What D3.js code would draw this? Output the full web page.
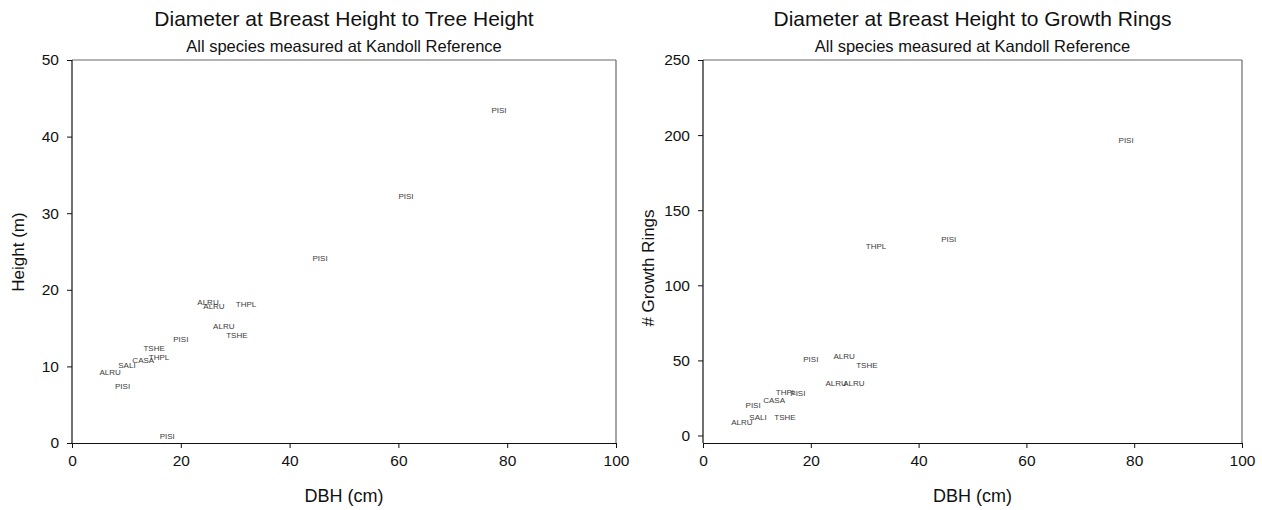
<!DOCTYPE html>
<html>
<head>
<meta charset="utf-8">
<script src="https://cdn.jsdelivr.net/npm/d3@7"></script>
<style>
  body { margin: 0; background: #fff; }
  svg { font-family: "Liberation Sans", Arial, sans-serif; }
</style>
</head>
<body>
<svg id="chart" width="1262" height="510"></svg>
<script>
// ---- Data: left chart (DBH vs Height) ----
const heightSpecies = ["PISI","PISI","PISI","ALRU","ALRU","THPL","ALRU","TSHE","PISI","TSHE","THPL","CASA","SALI","ALRU","PISI","PISI"];
const heightDbh     = [78.5, 61.4, 45.6, 25.0, 26.1, 32.0, 27.9, 30.3, 20.0, 15.1, 16.0, 13.1, 10.1, 7.0, 9.3, 17.5];
const heightValues  = [43.4, 32.2, 24.1, 18.4, 17.8, 18.1, 15.3, 14.1, 13.6, 12.4, 11.2, 10.8, 10.1, 9.3, 7.4, 0.9];

// ---- Data: right chart (DBH vs Growth Rings) ----
const ringSpecies = ["PISI","PISI","THPL","PISI","ALRU","TSHE","ALRU","ALRU","THPL","PISI","CASA","PISI","SALI","TSHE","ALRU"];
const ringDbh     = [78.5, 45.6, 32.1, 20.0, 26.2, 30.4, 24.7, 28.0, 15.4, 17.6, 13.2, 9.3, 10.2, 15.2, 7.2];
const ringValues  = [196.8, 131.0, 125.7, 50.5, 52.7, 46.5, 34.6, 34.6, 29.1, 28.4, 23.7, 19.9, 12.4, 12.4, 8.8];

const xTicks = [0, 20, 40, 60, 80, 100];
const heightTicks = [0, 10, 20, 30, 40, 50];
const ringTicks = [0, 50, 100, 150, 200, 250];

const titles = ["Diameter at Breast Height to Tree Height", "Diameter at Breast Height to Growth Rings"];
const subtitle = "All species measured at Kandoll Reference";
const xTitle = "DBH (cm)";
const yTitles = ["Height (m)", "# Growth Rings"];

const svg = d3.select("#chart");

function panel(cfg) {
  const g = svg.append("g");
  const x = d3.scaleLinear().domain([0, 100]).range([cfg.left, cfg.right]);
  const y = d3.scaleLinear().domain(cfg.yDomain).range([cfg.bottom, cfg.top]);

  // frame top/right
  g.append("line").attr("x1", cfg.left).attr("x2", cfg.right).attr("y1", cfg.top).attr("y2", cfg.top)
    .attr("stroke", "#6a6a6a").attr("stroke-width", 1.2);
  g.append("line").attr("x1", cfg.right).attr("x2", cfg.right).attr("y1", cfg.top).attr("y2", cfg.bottom)
    .attr("stroke", "#6a6a6a").attr("stroke-width", 1.2);

  const xa = g.append("g").attr("transform", `translate(0,${cfg.bottom})`)
    .call(d3.axisBottom(x).tickValues(xTicks).tickSize(5).tickPadding(7).tickSizeOuter(0).tickFormat(d3.format("d")));
  const ya = g.append("g").attr("transform", `translate(${cfg.left},0)`)
    .call(d3.axisLeft(y).tickValues(cfg.yTicks).tickSize(5).tickPadding(8).tickSizeOuter(0).tickFormat(d3.format("d")));
  [xa, ya].forEach(a => {
    a.selectAll("text").attr("font-size", 15.5).attr("fill", "#111").attr("font-family", "Liberation Sans, Arial, sans-serif");
    a.selectAll("line").attr("stroke", "#111");
    a.select(".domain").attr("stroke", "#111").attr("stroke-width", 1.2);
  });
  // y axis line covers full height
  ya.select(".domain").attr("d", `M0,${cfg.top}V${cfg.bottom}`);

  const cx = (cfg.left + cfg.right) / 2;
  g.append("text").attr("x", cx).attr("y", 26).attr("text-anchor", "middle")
    .attr("font-size", 21).attr("fill", "#111").text(cfg.title);
  g.append("text").attr("x", cx).attr("y", 52).attr("text-anchor", "middle")
    .attr("font-size", 16.5).attr("fill", "#111").text(subtitle);
  g.append("text").attr("x", cx).attr("y", 502).attr("text-anchor", "middle")
    .attr("font-size", 18).attr("fill", "#111").text(xTitle);
  g.append("text").attr("transform", `translate(${cfg.yTitleX},${cfg.yTitleY}) rotate(-90)`)
    .attr("text-anchor", "middle").attr("font-size", 17).attr("fill", "#111").text(cfg.yTitle);

  g.append("g").selectAll("text").data(cfg.species).join("text")
    .attr("x", (d, i) => x(cfg.dbh[i]))
    .attr("y", (d, i) => y(cfg.values[i]))
    .attr("dy", "0.35em")
    .attr("text-anchor", "middle")
    .attr("font-size", 8)
    .attr("fill", "#3a3a3a")
    .text(d => d);
}

panel({ left: 72, right: 616, top: 60, bottom: 443, yDomain: [0, 50], yTicks: heightTicks,
  title: titles[0], yTitle: yTitles[0], yTitleX: 24, yTitleY: 252,
  species: heightSpecies, dbh: heightDbh, values: heightValues });
panel({ left: 703, right: 1242, top: 60, bottom: 443, yDomain: [-5, 250], yTicks: ringTicks,
  title: titles[1], yTitle: yTitles[1], yTitleX: 654, yTitleY: 268,
  species: ringSpecies, dbh: ringDbh, values: ringValues });
</script>
</body>
</html>
